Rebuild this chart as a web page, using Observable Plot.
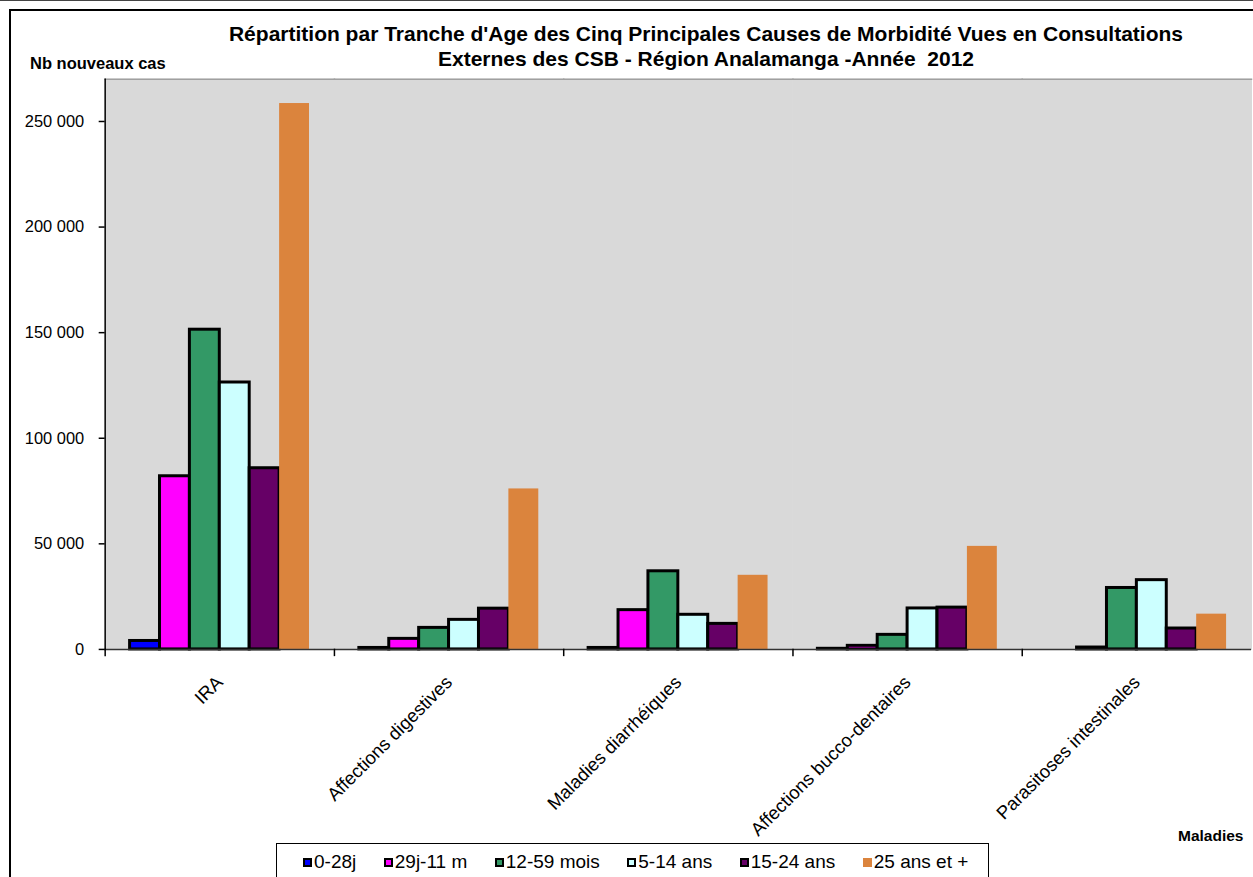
<!DOCTYPE html>
<html><head><meta charset="utf-8">
<script src="https://cdn.jsdelivr.net/npm/d3@7"></script>
<script src="https://cdn.jsdelivr.net/npm/@observablehq/plot@0.6"></script>
<style>
html,body{margin:0;padding:0;background:#fff;}
#page{position:relative;width:1253px;height:877px;overflow:hidden;font-family:"Liberation Sans",Arial,sans-serif;color:#000;background:#fff}
#topline{position:absolute;left:0;top:0;width:1253px;height:1px;background:#444}
#frame{position:absolute;left:9px;top:9px;width:1400px;height:1000px;border:2px solid #000}
#title{position:absolute;left:206px;top:21px;width:1000px;text-align:center;font-weight:bold;font-size:21px;line-height:25px;white-space:pre}
#ylab{position:absolute;left:30px;top:54px;font-weight:bold;font-size:16.5px}
#xlab{position:absolute;left:1178px;top:827px;font-weight:bold;font-size:15.5px}
#chart{position:absolute;left:0;top:0}
#legend{position:absolute;left:276px;top:843px;width:713px;border:1px solid #000;box-sizing:border-box;display:flex;align-items:center;padding-left:26px;gap:27.5px;height:40px;font-size:19px}
#legend .it{display:flex;align-items:center;margin-top:-2px}
#legend .sw{width:9px;height:9px;box-sizing:border-box;border:2px solid #000;margin-right:2px}
</style></head><body>
<div id="page">
  <div id="topline"></div>
  <div id="frame"></div>
  <div id="chart"></div>
  <div id="title"></div>
  <div id="ylab"></div>
  <div id="xlab"></div>
  <div id="legend"></div>
</div>
<script>
// ---- data ----
const titleLines = ["Répartition par Tranche d'Age des Cinq Principales Causes de Morbidité Vues en Consultations", "Externes des CSB - Région Analamanga -Année  2012"];
const yTitle = "Nb nouveaux cas";
const xTitle = "Maladies";
const diseases = ["IRA", "Affections digestives", "Maladies diarrhéiques", "Affections bucco-dentaires", "Parasitoses intestinales"];
const ages = ["0-28j", "29j-11 m", "12-59 mois", "5-14 ans", "15-24 ans", "25 ans et +"];
const colors = ["#0000ff", "#ff00ff", "#339966", "#ccffff", "#660066", "#db843d"];
const s_0_28j   = [4000, 700, 700, 300, 0];
const s_29j_11m = [82000, 5000, 18600, 1700, 900];
const s_12_59m  = [151400, 10200, 37000, 6900, 29100];
const s_5_14    = [126400, 14000, 16400, 19400, 32800];
const s_15_24   = [85800, 19300, 12100, 19800, 9900];
const s_25plus  = [258500, 76000, 35100, 48800, 16700];
const yTicks = [0, 50000, 100000, 150000, 200000, 250000];
const yMax = 270000;

// ---- build ----
const series = [s_0_28j, s_29j_11m, s_12_59m, s_5_14, s_15_24, s_25plus];
const rows = ages.flatMap((age, i) => diseases.map((disease, j) => ({disease, age, value: series[i][j]}))).filter(d => d.value > 0);
const lastAge = ages[ages.length - 1];
const fmt = d => d3.format(",")(d).replace(/,/g, " ");

document.getElementById("title").textContent = titleLines.join("\n");
document.getElementById("ylab").textContent = yTitle;
document.getElementById("xlab").textContent = xTitle;

const chart = Plot.plot({
  width: 1257, height: 877,
  marginLeft: 103, marginTop: 79, marginRight: 0, marginBottom: 226,
  style: {background: "transparent", fontFamily: "'Liberation Sans', Arial, sans-serif", fontSize: "15px", color: "#000", overflow: "visible"},
  fx: {domain: diseases, padding: 0, label: null},
  x: {domain: ages, paddingInner: 0, paddingOuter: 0.72, axis: null},
  y: {domain: [0, yMax], label: null},
  color: {domain: ages, range: colors},
  marks: [
    Plot.frame({fill: "#d9d9d9", stroke: "#d9d9d9"}),
    Plot.frame({anchor: "top", stroke: "#a0a0a0", strokeWidth: 1.5}),
    Plot.barY(rows.filter(d => d.age !== lastAge), {fx: "disease", x: "age", y: "value", fill: "age", stroke: "black", strokeWidth: 3}),
    Plot.barY(rows.filter(d => d.age === lastAge), {fx: "disease", x: "age", y: "value", fill: "age"}),
    Plot.ruleY([0], {stroke: "#333", strokeWidth: 1.5}),
    Plot.frame({anchor: "left", stroke: "black", strokeWidth: 1.5, fx: () => diseases[0]}),
    Plot.frame({anchor: "left", stroke: "black", strokeWidth: 1.5, insetTop: 572, insetBottom: -6}),
    Plot.axisY({ticks: yTicks, tickFormat: fmt, tickSize: 6, tickPadding: 15, fontSize: 16.5, label: null, strokeWidth: 1.5}),
    Plot.axisFx({anchor: "bottom", tickRotate: -45, tickSize: 0, tickPadding: 30, fontSize: 18.5, label: null})
  ]
});
document.getElementById("chart").appendChild(chart);

const legend = document.getElementById("legend");
ages.forEach((a, i) => {
  const it = document.createElement("div"); it.className = "it";
  const sw = document.createElement("div"); sw.className = "sw";
  sw.style.background = colors[i];
  if (a === lastAge) sw.style.border = "none";
  const t = document.createElement("span"); t.textContent = a;
  it.appendChild(sw); it.appendChild(t); legend.appendChild(it);
});
</script>
</body></html>
